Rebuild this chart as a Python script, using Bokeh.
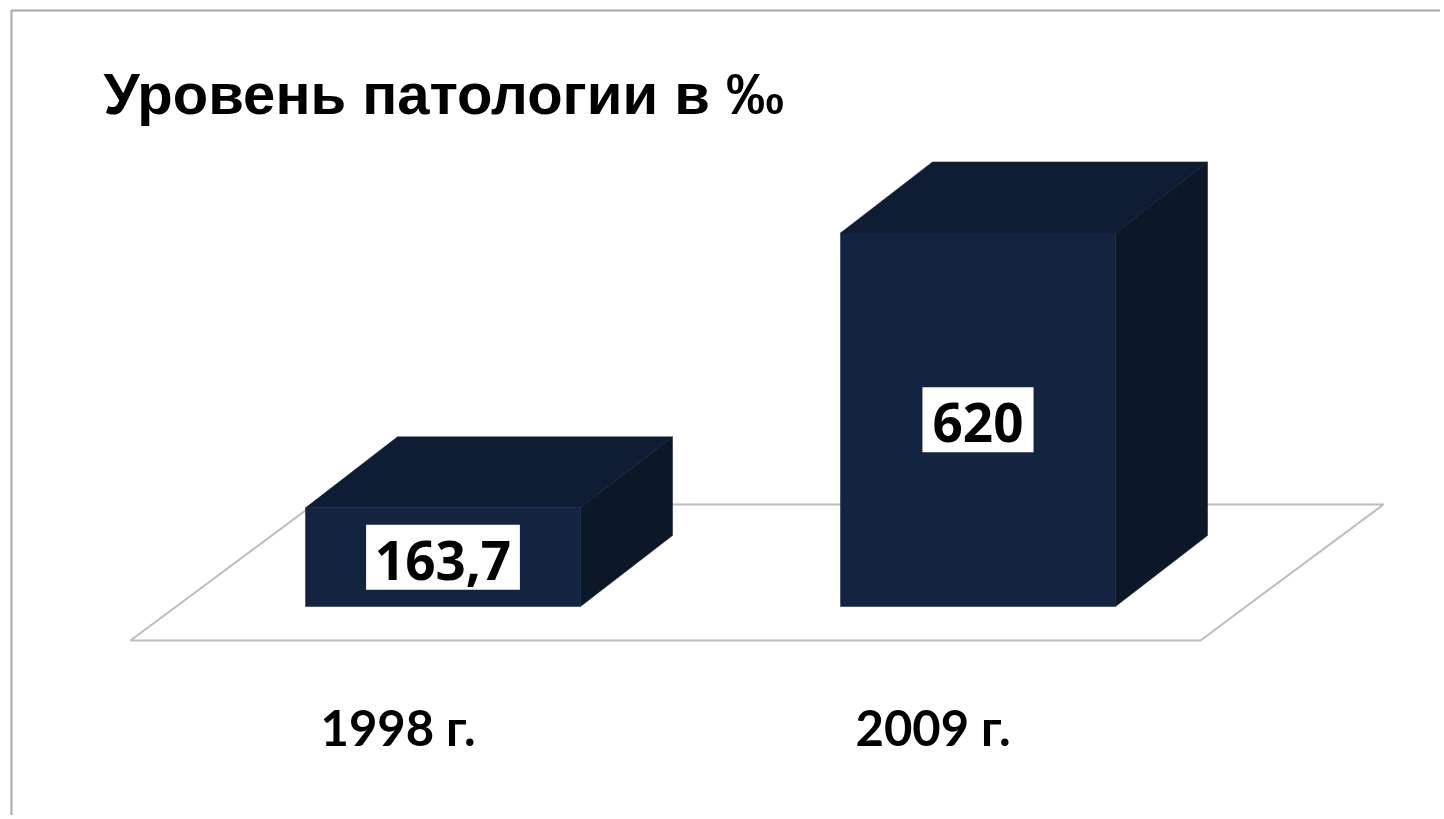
from bokeh.plotting import figure
from bokeh.models import Range1d
from bokeh.embed import file_html
from bokeh.resources import INLINE
from bokeh.core.properties import value

# ---- data ----
title_text = "Уровень патологии в ‰"
categories = ["1998 г.", "2009 г."]
values = [163.7, 620]
value_labels = ["163,7", "620"]

# ---- layout / style ----
W, H = 1440, 815
PX = 0.6025          # screen px per data unit
BASE = 606           # page pixel row of value 0 (front plane)
BAR_X0 = 305         # left of first bar front face
STEP = 535           # spacing between categories
BAR_W = 275
DEPTH_DX = 92
DEPTH_DY = 71 / PX   # depth offset in data units

FRONT = "#122440"
TOP = "#0e1d33"
SIDE = "#0c1828"
FLOOR = "#bdbdbd"


def vy(pix):
    return (BASE - pix) / PX


p = figure(width=W, height=H, x_range=Range1d(0, W),
           y_range=Range1d(vy(H), vy(0)),
           output_backend="svg", toolbar_location=None,
           x_axis_type=None, y_axis_type=None, min_border=0)
p.grid.visible = False
p.outline_line_color = None
p.background_fill_color = "white"
p.border_fill_color = "white"

# frame border
p.line([11, 11, 1444], [vy(822), vy(10), vy(10)], line_color="#a8a8a8", line_width=2)

# floor plane
p.patch([130, 1200, 1383, 313], [vy(640), vy(640), vy(504), vy(504)],
        fill_color=None, line_color=FLOOR, line_width=2)

# bars
n = len(values)
lefts = [BAR_X0 + i * STEP for i in range(n)]
rights = [l + BAR_W for l in lefts]
centers = [(l + r) / 2 for l, r in zip(lefts, rights)]

top_xs, top_ys, side_xs, side_ys = [], [], [], []
for l, r, v in zip(lefts, rights, values):
    top_xs.append([l, r, r + DEPTH_DX, l + DEPTH_DX])
    top_ys.append([v, v, v + DEPTH_DY, v + DEPTH_DY])
    side_xs.append([r, r + DEPTH_DX, r + DEPTH_DX, r])
    side_ys.append([0, DEPTH_DY, v + DEPTH_DY, v])

p.patches(top_xs, top_ys, fill_color=TOP, line_color=TOP, line_width=0.5)
p.patches(side_xs, side_ys, fill_color=SIDE, line_color=SIDE, line_width=0.5)
p.quad(left=lefts, right=rights, bottom=[0] * n, top=values,
       fill_color=FRONT, line_color=FRONT, line_width=0.5)

# value labels in white boxes
char_w = {",": 13}
box_w = [sum(char_w.get(c, 29.7) for c in s) + 22 for s in value_labels]
mid = [v / 2 for v in values]
p.rect(x=centers, y=mid, width=box_w, height=[65] * n,
       width_units="screen", height_units="screen",
       fill_color="white", line_color=None)
p.text(x=centers, y=mid, text=value_labels, text_align="center",
       text_baseline="alphabetic", y_offset=3,
       text_font=value("Open Sans"), text_font_style="bold",
       text_font_size="53px", text_color="black")

# category labels
p.text(x=[c - 45 for c in centers], y=[vy(748)] * n, text=categories,
       text_align="center", text_baseline="alphabetic", y_offset=-22,
       text_font=value("Lato"), text_font_style="bold",
       text_font_size="49px", text_color="black")

# title
p.text(x=[103], y=[vy(115)], text=[title_text], text_align="left",
       text_baseline="alphabetic", y_offset=-22,
       text_font=value("Liberation Sans"),
       text_font_style="bold", text_font_size="58px", text_color="black")

open("out.html", "w").write(file_html(p, INLINE))
